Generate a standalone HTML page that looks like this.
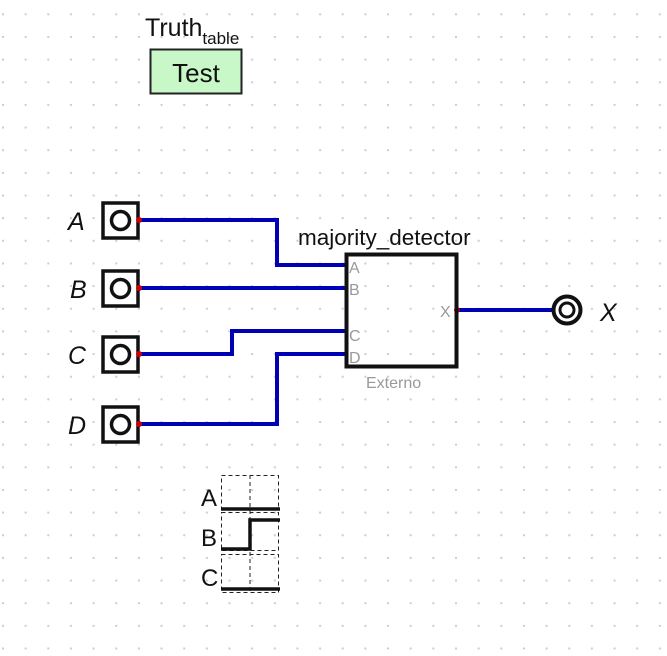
<!DOCTYPE html>
<html><head><meta charset="utf-8"><style>
html,body{margin:0;padding:0;background:#fff;}
svg{display:block;font-family:"Liberation Sans",sans-serif;}
</style></head><body>
<svg width="667" height="656" viewBox="0 0 667 656" xmlns="http://www.w3.org/2000/svg">
<defs>
<pattern id="g" x="2" y="13.3" width="22.65" height="22.65" patternUnits="userSpaceOnUse">
<rect x="0" y="0" width="2" height="2" fill="#cdcdcd"/>
</pattern>
</defs>
<rect width="667" height="656" fill="url(#g)"/>

<!-- Truth table -->
<text x="145" y="36" font-size="25" fill="#111">Truth<tspan font-size="17" dy="8">table</tspan></text>
<rect x="150.5" y="49.5" width="91" height="44" fill="#c8f7c8" stroke="#222" stroke-width="2"/>
<text x="196" y="82" font-size="26" text-anchor="middle" fill="#111">Test</text>

<!-- wires -->
<g fill="none" stroke="#0000b4" stroke-width="4">
<polyline points="139,220 277,220 277,265 346,265"/>
<polyline points="139,288 346,288"/>
<polyline points="139,354 232,354 232,331 346,331"/>
<polyline points="139,424 277,424 277,354 346,354"/>
<polyline points="457,310 553,310"/>
</g>

<!-- inputs -->
<g stroke="#111" stroke-width="3.5" fill="#fff">
<rect x="103" y="203" width="35" height="35"/>
<rect x="103" y="271" width="35" height="35"/>
<rect x="103" y="337" width="35" height="35"/>
<rect x="103" y="407" width="35" height="35"/>
<circle cx="120.5" cy="220.5" r="9"/>
<circle cx="120.5" cy="288.5" r="9"/>
<circle cx="120.5" cy="354.5" r="9"/>
<circle cx="120.5" cy="424.5" r="9"/>
</g>
<g fill="#d00000">
<circle cx="139" cy="220" r="3"/><circle cx="139" cy="288" r="3"/>
<circle cx="139" cy="354" r="3"/><circle cx="139" cy="424" r="3"/>
<circle cx="457" cy="310" r="3"/>
</g>
<g font-size="25" font-style="italic" fill="#111">
<text x="68" y="230">A</text>
<text x="70" y="298">B</text>
<text x="68" y="364">C</text>
<text x="68" y="434">D</text>
<text x="600" y="321">X</text>
</g>

<!-- component -->
<rect x="346.5" y="254.5" width="110" height="112" fill="none" stroke="#111" stroke-width="4"/>
<text x="298" y="245" font-size="22.5" fill="#111">majority_detector</text>
<g font-size="16" fill="#999">
<text x="349" y="273">A</text>
<text x="349" y="295">B</text>
<text x="349" y="341">C</text>
<text x="349" y="363">D</text>
<text x="440" y="317">X</text>
<text x="366" y="388">Externo</text>
</g>

<!-- output -->
<circle cx="567" cy="310" r="13.5" fill="#fff" stroke="#111" stroke-width="4"/>
<circle cx="567" cy="310" r="7" fill="none" stroke="#111" stroke-width="3"/>

<!-- timing diagram -->
<g fill="none" stroke="#222" stroke-width="1" stroke-dasharray="4,3">
<rect x="221.5" y="475.5" width="57" height="34"/>
<rect x="221.5" y="512.5" width="57" height="38"/>
<rect x="221.5" y="554.5" width="57" height="38"/>
<line x1="250" y1="475" x2="250" y2="593"/>
</g>
<g fill="none" stroke="#111" stroke-width="3.5">
<polyline points="221,509 280,509"/>
<polyline points="221,549 250,549 250,520 280,520"/>
<polyline points="221,589 280,589"/>
</g>
<g font-size="24" fill="#111">
<text x="201" y="506">A</text>
<text x="201" y="546">B</text>
<text x="201" y="586">C</text>
</g>
</svg>
</body></html>
